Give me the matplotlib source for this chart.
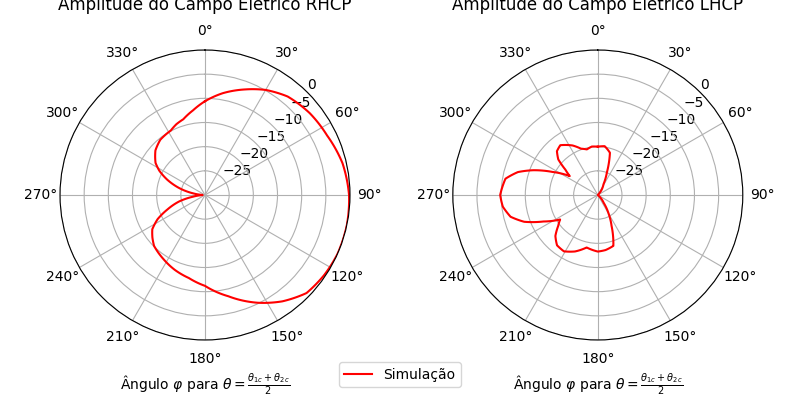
import numpy as np
import matplotlib.pyplot as plt

# angle (deg) and amplitude (dB)
rhcp_ang = [0, 10, 21, 30, 40, 52, 64, 77, 90, 102, 114, 124, 134, 144, 154, 167, 180, 191, 202, 213, 225, 231, 237,
            243, 249, 256, 262, 268, 272, 278, 285, 292, 298, 303, 312, 321, 332, 338, 344, 352, 360]
rhcp_db = [-10.6, -8.6, -6.6, -4.9, -3.4, -2.5, -1.9, -0.8, -0.2, 0.0, 0.0, -0.3, -0.8, -2.8, -5.2, -8.5, -11.2, -12.5,
           -13.3, -14.2, -15.1, -16.0, -17.0, -19.0, -21.7, -24.5, -27.5, -29.5, -29.5, -27.5, -24.5, -21.6, -19.3,
           -17.8, -16.2, -15.3, -14.9, -14.2, -13.7, -12.3, -10.6]

lhcp_ang = [0, 8, 16, 22, 28, 35, 45, 90, 130, 143, 150, 156, 163, 172, 180, 186, 192, 202, 211, 219, 226, 232, 237,
            244, 250, 256, 263, 270, 280, 286, 291, 297, 304, 308, 312, 317, 323, 333, 340, 346.5, 353, 360]
lhcp_db = [-20.0, -19.8, -20.9, -25.0, -27.5, -28.5, -30, -30, -30, -28.0, -25.5, -23.0, -19.0, -18.5, -18.3, -18.6,
           -18.9, -17.4, -16.4, -16.6, -17.8, -19.6, -20.7, -17.5, -13.8, -11.4, -10.2, -9.8, -10.6, -12.8, -15.7,
           -19.5, -23.0, -21.5, -19.0, -17.6, -17.1, -18.5, -19.8, -20.3, -19.9, -20.0]

fig = plt.figure(figsize=(8, 4))
ax1 = fig.add_axes([0.075, 0.15, 0.3625, 0.725], projection='polar')
ax2 = fig.add_axes([0.566, 0.15, 0.3625, 0.725], projection='polar')
panels = [(ax1, rhcp_ang, rhcp_db, 'Amplitude do Campo Elétrico RHCP'),
          (ax2, lhcp_ang, lhcp_db, 'Amplitude do Campo Elétrico LHCP')]

for ax, ang, db, title in panels:
    line, = ax.plot(np.deg2rad(ang), db, color='red', label='Simulação')
    line.get_path()._interpolation_steps = 20
    ax.set_theta_zero_location('N')
    ax.set_theta_direction(-1)
    ax.set_ylim(-30, 0)
    ax.set_yticks([-25, -20, -15, -10, -5, 0])
    ax.set_rlabel_position(45)
    ax.set_thetagrids(np.arange(0, 360, 30))
    ax.grid(True, color='#b0b0b0')
    ax.set_title(title, pad=10)
    ax.set_xlabel(r'Ângulo $\varphi$ para $\theta = \frac{\theta_{1c}+\theta_{2c}}{2}$', labelpad=4)

fig.legend(handles=[line], loc='lower center', bbox_to_anchor=(0.5, 0.015))
fig.savefig('out.png', dpi=100)
